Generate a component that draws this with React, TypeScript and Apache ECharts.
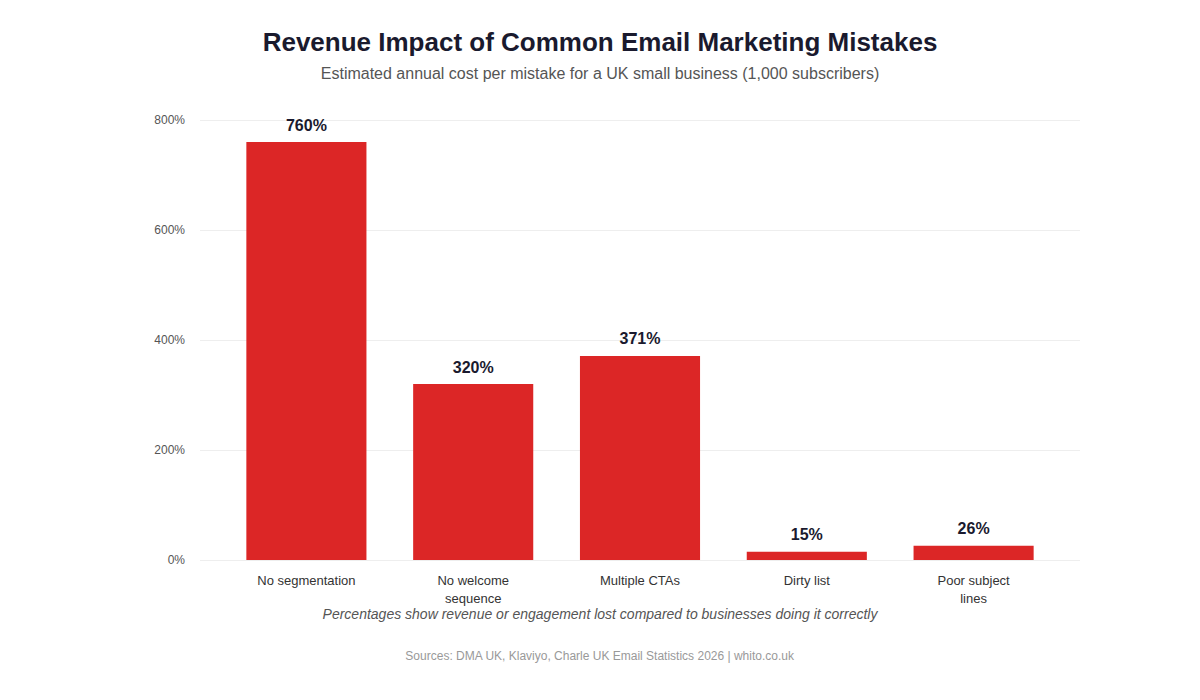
import React, { useEffect, useRef } from "react";
import * as echarts from "echarts";

const categories = [
  "No segmentation",
  "No welcome\nsequence",
  "Multiple CTAs",
  "Dirty list",
  "Poor subject\nlines",
];
const lossPercent = [760, 320, 371, 15, 26];
const yTicks = { min: 0, max: 800, interval: 200 };

const FONT = '"Liberation Sans", Arial, Helvetica, sans-serif';

export default function App() {
  const ref = useRef<HTMLDivElement>(null);

  useEffect(() => {
    if (!ref.current) return;
    const chart = echarts.init(ref.current, null, { renderer: "svg" });
    chart.setOption({
      animation: false,
      backgroundColor: "#ffffff",
      textStyle: { fontFamily: FONT },
      title: {
        text: "Revenue Impact of Common Email Marketing Mistakes",
        subtext:
          "Estimated annual cost per mistake for a UK small business (1,000 subscribers)",
        left: "center",
        top: 24,
        itemGap: 10,
        textStyle: {
          fontFamily: FONT,
          fontSize: 26,
          fontWeight: "bold",
          color: "#1a1a2e",
        },
        subtextStyle: { fontFamily: FONT, fontSize: 16, color: "#555555" },
      },
      // grid 0 carries the value scale and gridlines; grid 1 (inset) carries the bars
      grid: [
        { left: 200, right: 120, top: 120, bottom: 140 },
        { left: 223, right: 143, top: 120, bottom: 140 },
      ],
      xAxis: [
        {
          type: "category",
          gridIndex: 0,
          data: categories,
          show: false,
        },
        {
          type: "category",
          gridIndex: 1,
          data: categories,
          axisLine: { show: false },
          axisTick: { show: false },
          axisLabel: {
            color: "#333333",
            fontSize: 13,
            lineHeight: 18,
            margin: 11,
            fontFamily: FONT,
          },
        },
      ],
      yAxis: [
        {
          type: "value",
          gridIndex: 0,
          min: yTicks.min,
          max: yTicks.max,
          interval: yTicks.interval,
          axisLine: { show: false },
          axisTick: { show: false },
          axisLabel: {
            formatter: "{value}%",
            color: "#555555",
            fontSize: 12,
            margin: 15,
            fontFamily: FONT,
          },
          splitLine: { lineStyle: { color: "#eeeeee", width: 1 } },
        },
        {
          type: "value",
          gridIndex: 1,
          min: yTicks.min,
          max: yTicks.max,
          interval: yTicks.interval,
          show: false,
          splitLine: { show: false },
        },
      ],
      series: [
        {
          type: "bar",
          xAxisIndex: 1,
          yAxisIndex: 1,
          data: lossPercent,
          barWidth: "72%",
          itemStyle: { color: "#dc2626" },
          label: {
            show: true,
            position: "top",
            distance: 9,
            formatter: "{c}%",
            fontSize: 16,
            fontWeight: "bold",
            color: "#1a1a2e",
            fontFamily: FONT,
          },
        },
      ],
      graphic: [
        {
          type: "text",
          left: "center",
          top: 607,
          style: {
            text: "Percentages show revenue or engagement lost compared to businesses doing it correctly",
            font: `italic 14px ${FONT}`,
            fill: "#555555",
          },
        },
        {
          type: "text",
          left: "center",
          top: 650,
          style: {
            text: "Sources: DMA UK, Klaviyo, Charle UK Email Statistics 2026 | whito.co.uk",
            font: `12px ${FONT}`,
            fill: "#999999",
          },
        },
      ],
    });
    return () => chart.dispose();
  }, []);

  return (
    <div
      ref={ref}
      style={{ position: "absolute", left: 0, top: 0, width: 1200, height: 700 }}
    />
  );
}
